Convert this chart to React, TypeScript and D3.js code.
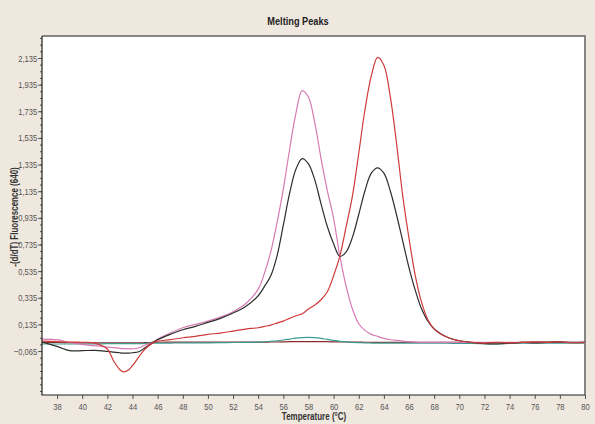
import React, { useEffect, useRef } from "react";
import * as d3 from "d3";

const temps = [36.8, 38, 39, 40, 41, 42, 42.5, 43, 43.3, 43.7, 44, 44.5, 45, 45.7, 46, 47, 48, 49, 50, 51, 52, 53, 54, 54.5, 55, 55.5, 56, 56.5, 57, 57.5, 58, 58.5, 59, 59.5, 60, 60.5, 61, 61.5, 62, 62.5, 63, 63.5, 64, 64.5, 65, 65.5, 66, 66.5, 67, 67.5, 68, 69, 70, 71, 72, 73, 74, 75, 76, 77, 78, 79, 80];

const blackSeries = [0.002, -0.03, -0.062, -0.062, -0.06, -0.068, -0.073, -0.078, -0.08, -0.08, -0.078, -0.07, -0.04, 0.005, 0.02, 0.06, 0.095, 0.12, 0.15, 0.18, 0.22, 0.27, 0.35, 0.42, 0.5, 0.65, 0.88, 1.12, 1.3, 1.38, 1.34, 1.22, 1.04, 0.87, 0.74, 0.645, 0.68, 0.79, 0.96, 1.14, 1.27, 1.31, 1.27, 1.14, 0.96, 0.76, 0.56, 0.39, 0.25, 0.16, 0.1, 0.04, 0.012, 0.0, -0.01, -0.012, -0.006, 0.0, -0.003, 0.0, 0.002, 0.0, 0.0];

const pinkSeries = [0.025, 0.02, 0.0, -0.015, -0.025, -0.035, -0.04, -0.045, -0.047, -0.048, -0.048, -0.04, -0.02, 0.005, 0.025, 0.07, 0.11, 0.135, 0.16, 0.19, 0.23, 0.29, 0.4, 0.52, 0.68, 0.9, 1.15, 1.45, 1.72, 1.89, 1.84, 1.65, 1.38, 1.14, 0.93, 0.645, 0.42, 0.25, 0.14, 0.09, 0.06, 0.045, 0.03, 0.02, 0.015, 0.01, 0.005, 0.002, 0.0, 0.0, 0.0, 0.0, 0.0, 0.0, 0.0, 0.0, 0.0, 0.0, 0.0, 0.0, 0.0, 0.0, 0.0];

const redSeries = [0.01, 0.005, 0.002, 0.0, -0.005, -0.05, -0.14, -0.205, -0.222, -0.205, -0.175, -0.11, -0.05, 0.0, 0.01, 0.02, 0.035, 0.045, 0.06, 0.07, 0.085, 0.1, 0.11, 0.12, 0.13, 0.145, 0.16, 0.18, 0.2, 0.215, 0.25, 0.28, 0.32, 0.38, 0.5, 0.65, 0.87, 1.1, 1.42, 1.75, 2.0, 2.14, 2.08, 1.85, 1.5, 1.1, 0.78, 0.5, 0.3, 0.17, 0.1, 0.04, 0.012, 0.0, -0.005, 0.0, -0.004, 0.0, 0.002, 0.0, 0.003, -0.002, 0.0];

const tealSeries = [-0.012, -0.012, -0.012, -0.012, -0.012, -0.01, -0.01, -0.01, -0.01, -0.01, -0.01, -0.01, -0.008, -0.006, -0.006, -0.005, -0.004, -0.004, -0.003, -0.002, -0.001, 0.0, 0.002, 0.004, 0.008, 0.012, 0.018, 0.025, 0.032, 0.036, 0.038, 0.036, 0.03, 0.022, 0.015, 0.008, 0.004, 0.0, -0.002, -0.004, -0.005, -0.006, -0.006, -0.006, -0.006, -0.006, -0.006, -0.006, -0.006, -0.006, -0.006, -0.006, -0.008, -0.008, -0.01, -0.012, -0.008, -0.006, -0.005, -0.005, -0.005, -0.005, -0.005];

const darkRedSeries = [0.0, 0.0, -0.002, -0.003, -0.004, -0.004, -0.004, -0.004, -0.004, -0.004, -0.004, -0.003, -0.002, 0.0, 0.001, 0.002, 0.002, 0.002, 0.002, 0.002, 0.002, 0.002, 0.002, 0.002, 0.003, 0.003, 0.004, 0.005, 0.005, 0.005, 0.005, 0.005, 0.005, 0.005, 0.004, 0.004, 0.003, 0.002, 0.002, 0.001, 0.001, 0.0, 0.0, 0.0, 0.0, 0.0, 0.0, 0.0, 0.0, 0.0, 0.0, 0.0, 0.0, -0.002, -0.006, -0.004, -0.003, 0.0, 0.004, 0.003, 0.004, -0.002, 0.0];

const seriesList = [
  { name: "darkred", values: darkRedSeries, color: "#8b2a2a" },
  { name: "teal", values: tealSeries, color: "#3d9a90" },
  { name: "pink", values: pinkSeries, color: "#d77ab4" },
  { name: "black", values: blackSeries, color: "#2e2e2e" },
  { name: "red", values: redSeries, color: "#cf3b3b" },
];

const xTicks = d3.range(38, 81, 2);
const yTicks = [-0.065, 0.135, 0.335, 0.535, 0.735, 0.935, 1.135, 1.335, 1.535, 1.735, 1.935, 2.135];

const W = 595;
const H = 424;
const margin = { left: 42, right: 10, top: 36, bottom: 29 };
const labelFont = "'Liberation Sans', Arial, sans-serif";
const squeeze = "scale(0.8,1)"; // the original uses a condensed face

const App = () => {
  const svgRef = useRef<SVGSVGElement>(null);

  useEffect(() => {
    const svg = d3.select(svgRef.current);
    svg.selectAll("*").remove();

    const x = d3.scaleLinear().domain([36.8, 80]).range([margin.left, W - margin.right]);
    const y = d3.scaleLinear().domain([-0.395, 2.3]).range([H - margin.bottom, margin.top]);

    svg.append("rect").attr("width", W).attr("height", H).attr("fill", "#efe8df");
    svg.append("rect")
      .attr("x", margin.left).attr("y", margin.top)
      .attr("width", W - margin.left - margin.right)
      .attr("height", H - margin.top - margin.bottom)
      .attr("fill", "#ffffff");

    // top / right frame in grey
    svg.append("path")
      .attr("d", `M${margin.left},${margin.top}H${W - margin.right}V${H - margin.bottom}`)
      .attr("fill", "none").attr("stroke", "#858585").attr("stroke-width", 2);

    const clip = svg.append("clipPath").attr("id", "plotclip");
    clip.append("rect")
      .attr("x", margin.left).attr("y", margin.top)
      .attr("width", W - margin.left - margin.right)
      .attr("height", H - margin.top - margin.bottom);

    const line = d3.line<number>()
      .x((_, i) => x(temps[i]))
      .y(d => y(d))
      .curve(d3.curveCatmullRom.alpha(0.5));

    const g = svg.append("g").attr("clip-path", "url(#plotclip)");
    seriesList.forEach(s => {
      g.append("path")
        .datum(s.values)
        .attr("fill", "none")
        .attr("stroke", s.color)
        .attr("stroke-width", 1.2)
        .attr("d", line);
    });

    // y axis: minor then major ticks
    const yMinor = svg.append("g").attr("transform", `translate(${margin.left},0)`);
    yMinor.call(
      d3.axisLeft(y).tickValues(d3.range(-0.365, 2.3, 0.05)).tickSize(2).tickFormat(() => "")
    );
    yMinor.select(".domain").remove();
    const yMajor = svg.append("g").attr("transform", `translate(${margin.left},0)`);
    yMajor.call(
      d3.axisLeft(y).tickValues(yTicks).tickSize(4).tickPadding(2)
        .tickFormat(d => d3.format(".3f")(d as number).replace(".", ","))
    );
    yMajor.select(".domain").remove();
    yMajor.selectAll("text")
      .attr("transform", squeeze)
      .attr("font-family", labelFont).attr("font-size", 9.5).attr("fill", "#555");

    // x axis
    const xAxis = svg.append("g").attr("transform", `translate(0,${H - margin.bottom})`);
    xAxis.call(d3.axisBottom(x).tickValues(xTicks).tickSize(4).tickPadding(4).tickFormat(d3.format("d")));
    xAxis.select(".domain").remove();
    xAxis.selectAll("text")
      .attr("transform", squeeze)
      .attr("font-family", labelFont).attr("font-size", 9.5).attr("fill", "#555");
    svg.selectAll(".tick line").attr("stroke", "#555");

    // left / bottom axis lines
    svg.append("path")
      .attr("d", `M${margin.left},${margin.top}V${H - margin.bottom}H${W - margin.right}`)
      .attr("fill", "none").attr("stroke", "#222").attr("stroke-width", 1.2);

    svg.append("text")
      .attr("transform", `translate(298,25) ${squeeze}`)
      .attr("text-anchor", "middle")
      .attr("font-family", labelFont).attr("font-weight", "bold")
      .attr("font-size", 11.5).attr("fill", "#222")
      .text("Melting Peaks");

    svg.append("text")
      .attr("transform", `translate(314,420) ${squeeze}`)
      .attr("text-anchor", "middle")
      .attr("font-family", labelFont).attr("font-weight", "bold")
      .attr("font-size", 10).attr("fill", "#333")
      .text("Temperature (°C)");

    svg.append("text")
      .attr("transform", `translate(18,217) rotate(-90) ${squeeze}`)
      .attr("text-anchor", "middle")
      .attr("font-family", labelFont).attr("font-weight", "bold")
      .attr("font-size", 10).attr("fill", "#333")
      .text("-(d/dT) Fluorescence (640)");
  }, []);

  return (
    <div style={{ position: "absolute", left: 0, top: 0 }}>
      <svg ref={svgRef} width={W} height={H} style={{ display: "block" }}></svg>
    </div>
  );
};

export default App;
